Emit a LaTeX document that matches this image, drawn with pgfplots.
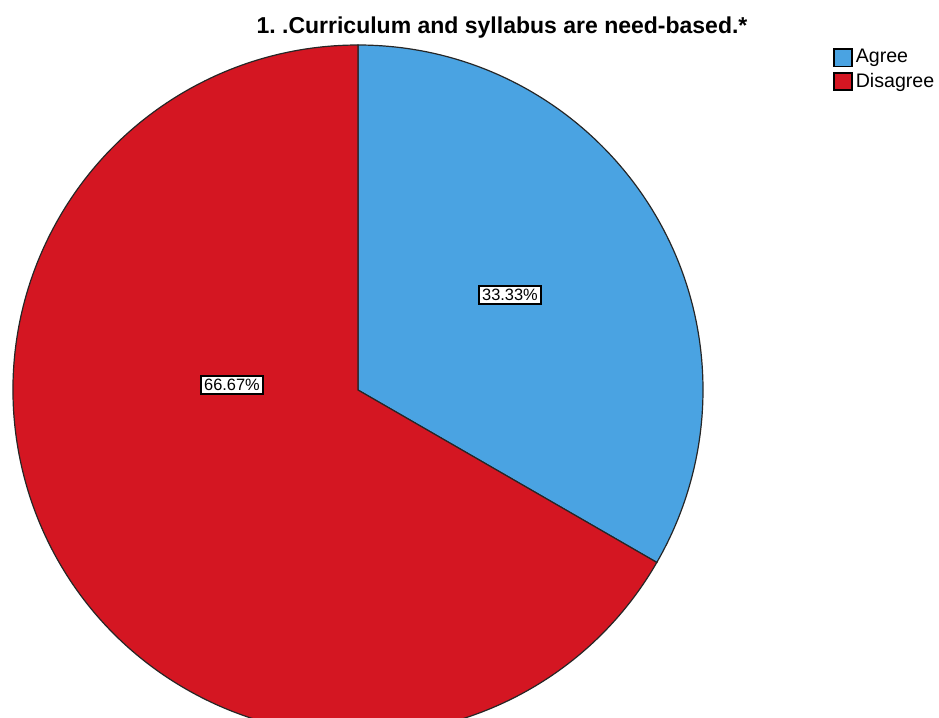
\documentclass[border=0pt]{standalone}
\usepackage{pgfplots}
\pgfplotsset{compat=1.18}
\usepackage{pgfplotstable}
\usepackage{fontspec}
\setmainfont{Liberation Sans}
\frenchspacing

\definecolor{agree}{RGB}{74,163,226}
\definecolor{disagree}{RGB}{212,22,34}

% percentages of the two answers
\pgfplotstableread{
label    value
Agree    33.33
Disagree 66.67
}\piedata

\begin{document}
\begin{tikzpicture}
\pgfplotstablegetelem{0}{value}\of\piedata
\let\vA\pgfplotsretval
\pgfplotstablegetelem{1}{value}\of\piedata
\let\vB\pgfplotsretval
\pgfmathsetmacro{\aEnd}{90-3.6*\vA}
\def\R{172.5pt}
\begin{axis}[
  width=469.5pt, height=359pt, scale only axis,
  xmin=0, xmax=939, ymin=0, ymax=718, y dir=reverse,
  hide axis, clip=true,
  legend style={at={(axis cs:833,46)}, anchor=north west, draw=none, fill=none,
    font=\fontsize{9.8}{10}\selectfont, row sep=0.5pt, inner sep=0pt,
    nodes={inner sep=1.5pt}},
  legend cell align=left,
  legend image code/.code={\draw[#1] (0pt,-4.3pt) rectangle (9pt,4.3pt);},
]
\addlegendimage{fill=agree, draw=black, line width=0.7pt}
\addlegendentry{Agree}
\addlegendimage{fill=disagree, draw=black, line width=0.7pt}
\addlegendentry{Disagree}

% slices
\fill[agree, draw=black!85, line width=0.6pt] (axis cs:358,390) -- ++(90:\R)
  arc[start angle=90, end angle=\aEnd, radius=\R] -- cycle;
\fill[disagree, draw=black!85, line width=0.6pt] (axis cs:358,390) -- ++(\aEnd:\R)
  arc[start angle=\aEnd, end angle=-270, radius=\R] -- cycle;

% value labels
\node[fill=white, draw=black, line width=0.6pt, inner sep=1.6pt,
  font=\fontsize{8.2}{9}\selectfont] at (axis cs:510,295) {\vA\%};
\node[fill=white, draw=black, line width=0.6pt, inner sep=1.6pt,
  font=\fontsize{8.2}{9}\selectfont] at (axis cs:232,385) {\vB\%};

% title
\node[font=\bfseries\fontsize{11.5}{13}\selectfont] at (axis cs:502,28)
  {1. .Curriculum and syllabus are need-based.*};
\end{axis}
\pgfresetboundingbox
\path (current axis.south west) rectangle (current axis.north east);
\end{tikzpicture}
\end{document}
